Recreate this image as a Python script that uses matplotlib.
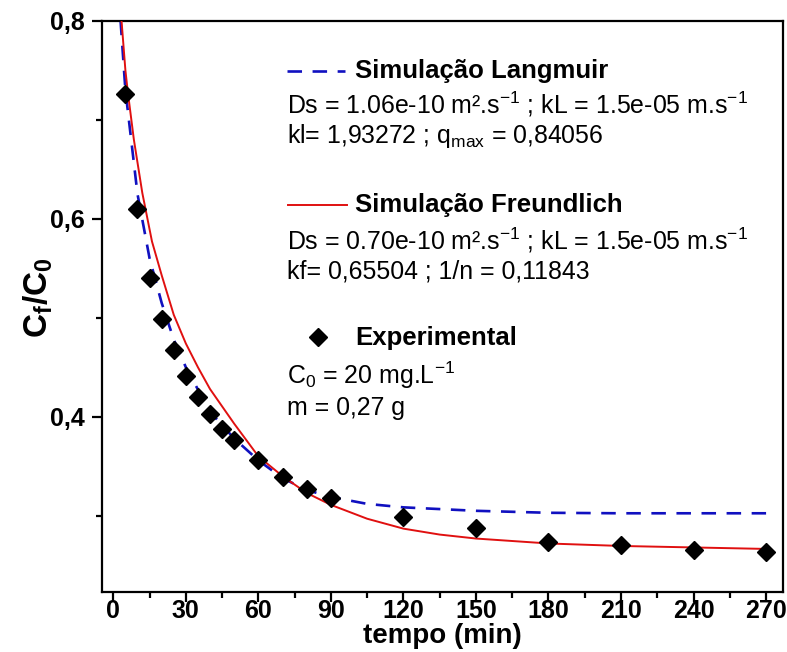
import matplotlib
matplotlib.use("Agg")
import matplotlib.pyplot as plt
from matplotlib.lines import Line2D
from matplotlib.ticker import MultipleLocator, FixedLocator
from matplotlib import font_manager

plt.rcParams['font.family'] = ['Liberation Sans', 'DejaVu Sans']
plt.rcParams['mathtext.fontset'] = 'custom'
plt.rcParams['mathtext.rm'] = 'Liberation Sans'
plt.rcParams['mathtext.it'] = 'Liberation Sans'
plt.rcParams['mathtext.bf'] = 'Liberation Sans:bold'

# Experimental data
t_exp = [5, 10, 15, 20, 25, 30, 35, 40, 45, 50, 60, 70, 80, 90, 120, 150, 180, 210, 240, 270]
c_exp = [0.726, 0.610, 0.540, 0.499, 0.467, 0.441, 0.420, 0.403, 0.388, 0.377,
         0.356, 0.339, 0.327, 0.318, 0.299, 0.288, 0.274, 0.270, 0.265, 0.263]

# Langmuir simulation
t_lang = [3.0, 3.8, 5, 7, 10, 15, 20, 25, 30, 40, 50, 60, 70, 80, 90, 105, 120, 150, 180, 210, 240, 270]
c_lang = [0.80, 0.772, 0.730, 0.688, 0.625, 0.560, 0.515, 0.478, 0.450, 0.405, 0.378,
          0.356, 0.338, 0.326, 0.319, 0.312, 0.3085, 0.305, 0.303, 0.3025, 0.3025, 0.3025]

# Freundlich simulation
t_freu = [3.4, 5, 6, 8.5, 12, 16, 20, 25, 30, 35, 40, 50, 60, 70, 80, 90, 105, 120, 135, 150, 180, 210, 240, 270]
c_freu = [0.80, 0.750, 0.728, 0.680, 0.626, 0.577, 0.543, 0.503, 0.474, 0.450, 0.428, 0.393,
          0.360, 0.340, 0.323, 0.311, 0.297, 0.287, 0.281, 0.277, 0.272, 0.2695, 0.268, 0.2665]

x_ticks = [0, 30, 60, 90, 120, 150, 180, 210, 240, 270]
x_ticklabels = [str(v) for v in x_ticks]
y_ticks = [0.4, 0.6, 0.8]
y_ticklabels = ["0,4", "0,6", "0,8"]

avail = {f.name for f in font_manager.fontManager.ttflist}
narrow = 'Liberation Sans Narrow' if 'Liberation Sans Narrow' in avail else 'Liberation Sans'

W, H = 787, 652
fig = plt.figure(figsize=(W / 100, H / 100), dpi=100)
ax = fig.add_axes([101.7 / W, 1 - 592 / H, (783 - 101.7) / W, (592 - 20.7) / H])

ax.plot(t_lang, c_lang, color='#1010c0', lw=1.9, dashes=(5.5, 4), zorder=2)
ax.plot(t_freu, c_freu, color='#e01010', lw=1.4, zorder=3)
ax.plot(t_exp, c_exp, linestyle='none', marker='D', color='black', markersize=9.5, zorder=4)

ax.set_xlim(-4.8, 277)
ax.set_ylim(0.223, 0.8)
ax.set_xticks(x_ticks, x_ticklabels, fontsize=18, fontweight='bold', family=narrow)
ax.xaxis.set_minor_locator(MultipleLocator(15))
ax.set_yticks(y_ticks, y_ticklabels, fontsize=18, fontweight='bold')
ax.yaxis.set_minor_locator(FixedLocator([0.3, 0.5, 0.7]))
for s in ax.spines.values():
    s.set_linewidth(1.6)
ax.tick_params(which='major', direction='out', length=7, width=1.6)
ax.tick_params(axis='x', which='major', pad=-2)
ax.tick_params(axis='y', which='major', pad=5)
ax.tick_params(which='minor', direction='out', length=4, width=1.6)
ax.tick_params(top=False, right=False)


def fx(x):
    return x / W


def fy(y):
    return 1 - y / H


fig.text(fx(442), fy(636), "tempo (min)", fontsize=20, fontweight='bold', ha='center', va='center')
fig.text(fx(38), fy(298), r"C$_\mathbf{f}$/C$_\mathbf{0}$", fontsize=24, fontweight='bold',
         ha='center', va='center', rotation=90)

fs_b = 18.5
fs_t = 17.9
# Langmuir block
fig.add_artist(Line2D([fx(287), fx(345)], [fy(71), fy(71)], color='#1010c0', lw=1.9, dashes=(5.5, 4),
                      transform=fig.transFigure))
fig.text(fx(355), fy(71), "Simulação Langmuir", fontsize=fs_b, fontweight='bold', va='center')
fig.text(fx(287), fy(104), r"Ds = 1.06e-10 m².s$^{-1}$ ; kL = 1.5e-05 m.s$^{-1}$", fontsize=fs_t, va='center')
fig.text(fx(287), fy(136), r"kl= 1,93272 ; q$_{\mathrm{max}}$ = 0,84056", fontsize=fs_t, va='center')
# Freundlich block
fig.add_artist(Line2D([fx(288), fx(347)], [fy(205), fy(205)], color='#e01010', lw=1.4,
                      transform=fig.transFigure))
fig.text(fx(355), fy(205), "Simulação Freundlich", fontsize=fs_b, fontweight='bold', va='center')
fig.text(fx(287), fy(240), r"Ds = 0.70e-10 m².s$^{-1}$ ; kL = 1.5e-05 m.s$^{-1}$", fontsize=fs_t, va='center')
fig.text(fx(287), fy(272), r"kf= 0,65504 ; 1/n = 0,11843", fontsize=fs_t, va='center')
# Experimental block
fig.add_artist(Line2D([fx(318)], [fy(337)], marker='D', color='black', markersize=9.5, linestyle='none',
                      transform=fig.transFigure))
fig.text(fx(355), fy(338), "Experimental", fontsize=fs_b, fontweight='bold', va='center')
fig.text(fx(287), fy(375), r"C$_0$ = 20 mg.L$^{-1}$", fontsize=fs_t, va='center')
fig.text(fx(287), fy(408), r"m = 0,27 g", fontsize=fs_t, va='center')

fig.savefig("out.png", dpi=100)
